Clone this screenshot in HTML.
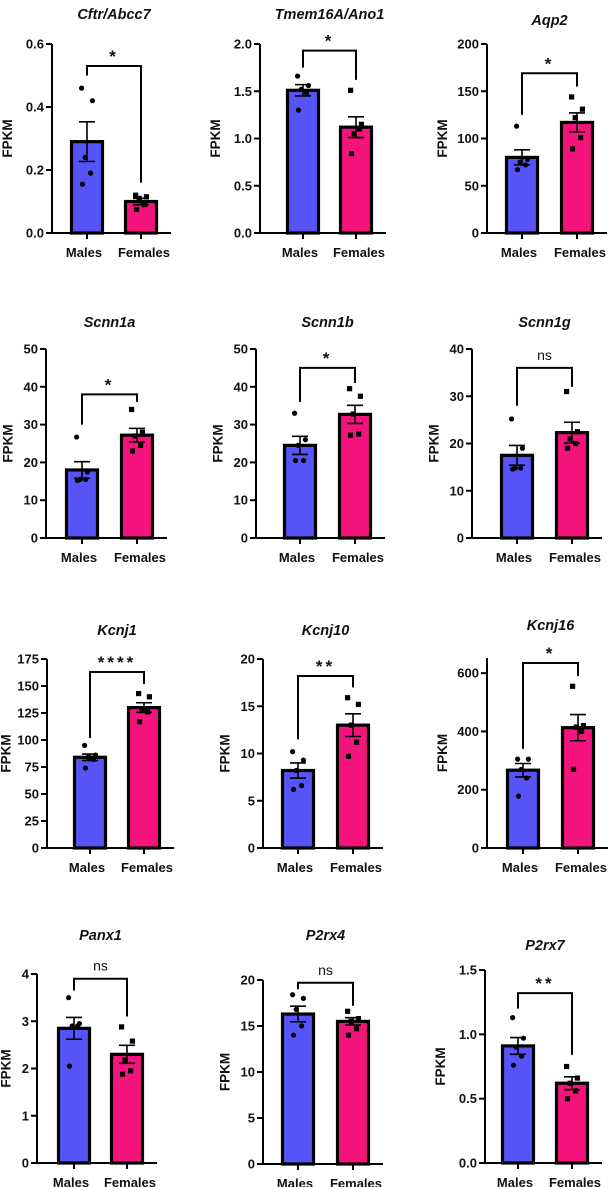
<!DOCTYPE html>
<html><head><meta charset="utf-8"><style>
html,body{margin:0;padding:0;background:#fff}
svg{display:block}
text{font-family:"Liberation Sans",Arial,sans-serif;fill:#111}
</style></head><body>
<svg id="fig" width="615" height="1187" viewBox="0 0 615 1187" xmlns="http://www.w3.org/2000/svg"></svg>
<script>
const genes = ["Cftr/Abcc7","Tmem16A/Ano1","Aqp2","Scnn1a","Scnn1b","Scnn1g","Kcnj1","Kcnj10","Kcnj16","Panx1","P2rx4","P2rx7"];
const categories = ["Males","Females"];
const maleMeans = [0.29,1.51,80,18,24.5,17.5,84,8.2,267,2.85,16.3,0.91];
const maleSems = [0.063,0.06,8,2.2,2.4,2.1,3,0.8,23,0.23,0.85,0.065];
const femaleMeans = [0.10,1.12,117,27.2,32.7,22.3,130,13.0,413,2.3,15.5,0.62];
const femaleSems = [0.01,0.11,10,1.8,2.4,2.2,4.5,1.2,45,0.19,0.4,0.05];
const malePoints = [
 [0.46,0.42,0.24,0.19,0.155],[1.66,1.56,1.52,1.48,1.30],[113,78,75,72,67],
 [26.7,17.5,15.5,15.5,15.2],[33,26,24.5,20.5,20.5],[25.2,19,14.8,14.8,14.6],
 [95,86,84,82,74],[10.2,9.3,8.2,6.6,6.2],[305,305,270,240,178],
 [3.5,2.95,2.9,2.9,2.05],[18.4,18.0,16.8,15.0,14.0],[1.13,0.97,0.90,0.83,0.76]];
const femalePoints = [
 [0.12,0.115,0.11,0.09,0.075],[1.51,1.15,1.05,1.10,0.84],[144,131,122,101,89],
 [34,28,27,24.5,23],[39.5,37.5,32.8,27.5,27.2],[31,22.5,21,20,19],
 [143,140,128,126,117],[15.9,15.2,13,11.2,9.7],[555,420,415,400,270],
 [2.88,2.58,2.18,1.95,1.88],[16.6,15.8,15.5,14.7,14.0],[0.75,0.66,0.62,0.56,0.50]];
const axisMax = [0.6,2,200,50,50,40,175,20,652,4,20,1.5];
const tickStep = [0.2,0.5,50,10,10,10,25,5,200,1,5,0.5];
const tickMaxVal = [0.6,2,200,50,50,40,175,20,600,4,20,1.5];
const tickDecimals = [1,1,0,0,0,0,0,0,0,0,0,1];
const sigLabels = ["*","*","*","*","*","ns","****","**","*","ns","ns","**"];
const bracketVals = [0.53,1.93,169,38,45,36,163,18.2,635,3.9,19.7,1.32];
const maleLegEnd = [0.5,1.75,125,30,36,28,102,11.5,340,3.65,19,1.2];
const femaleLegEnd = [0.16,1.62,155,36,41,32,152,17,590,3.1,17.2,0.84];
// layout: [axisX, topY, bottomY, center1, center2, titleY]
const layout = [
 [52,44,233,87,141,14],[260,44,233,303,356,14],[487,44,233,522,577,20],
 [46,349,538,82,137,322],[256,349,538,300,355,322],[472,349,538,517,572,322],
 [47,659,848,90,144,630],[263,659,848,298,353,630],[487,658,848,523,578,625],
 [37,974,1163,74,127,935],[263,980,1164,298,353,935],[485,970,1163,518,572,945]];
const NS="http://www.w3.org/2000/svg";
const svg=document.getElementById('fig');
function mk(tag,attrs,parent){const e=document.createElementNS(NS,tag);for(const k in attrs)e.setAttribute(k,attrs[k]);(parent||svg).appendChild(e);return e;}
const jx=[-6,6,-2,4,-5];
genes.forEach((g,i)=>{
  const [ax,top,bot,c1,c2,ty]=layout[i];
  const max=axisMax[i];
  const y=v=>bot-(v/max)*(bot-top);
  const grp=mk('g',{});
  
  
  const t=mk('text',{x:(c1+c2)/2,y:ty+5,'text-anchor':'middle','font-size':'14.5','font-weight':'bold','font-style':'italic'},grp);
  t.textContent=g;
  
  
  [[c1,maleMeans[i],maleSems[i],'#5754f7',malePoints[i],'circle'],[c2,femaleMeans[i],femaleSems[i],'#f4147c',femalePoints[i],'square']].forEach((b,k)=>{
    const [cx,m,s,col,pts,shape]=b;
    const r=mk('rect',{x:cx-15.5,y:y(m),width:31,height:bot-y(m),fill:col,stroke:'#000','stroke-width':3.2},grp);
    
    
    const eb=mk('path',{d:`M${cx} ${y(m-s)}V${y(m+s)}M${cx-8} ${y(m+s)}H${cx+8}M${cx-8} ${y(m-s)}H${cx+8}`,stroke:'#000','stroke-width':1.6,fill:'none'},grp);
    
    
    pts.forEach((p,j)=>{
      let d;
      if(shape==='circle'){d=mk('circle',{cx:cx+jx[j]*0.9,cy:y(p),r:2.6,fill:'#000'},grp);}
      else{d=mk('rect',{x:cx+jx[j]*0.9-2.6,y:y(p)-2.6,width:5.2,height:5.2,fill:'#000'},grp);}
      
      
    });
  });
  const yl=mk('line',{x1:ax,y1:top,x2:ax,y2:bot+1,stroke:'#000','stroke-width':2},grp);
  
  
  const xl=mk('line',{x1:ax-1,y1:bot,x2:c2+30,y2:bot,stroke:'#000','stroke-width':2},grp);
  
  
  let maxLbl=0;
  const n=Math.round(tickMaxVal[i]/tickStep[i]);
  for(let k=0;k<=n;k++){
    const v=k*tickStep[i];
    mk('line',{x1:ax-6,y1:y(v),x2:ax,y2:y(v),stroke:'#000','stroke-width':2},grp);
    const lbl=v.toFixed(tickDecimals[i]);
    maxLbl=Math.max(maxLbl,lbl.length);
    const tl=mk('text',{x:ax-8,y:y(v)+4.5,'text-anchor':'end','font-size':'13','font-weight':'bold'},grp);
    tl.textContent=lbl;
    
    
  }
  const fx=Math.max(ax-maxLbl*6.5-24,7);
  const fy=(top+bot)/2;
  const ft=mk('text',{x:fx,y:fy,'text-anchor':'middle','font-size':'13.5','font-weight':'bold',transform:`rotate(-90 ${fx} ${fy})`,'dominant-baseline':'middle'},grp);
  ft.textContent='FPKM';
  
  
  [c1,c2].forEach((cx,k)=>{
    mk('line',{x1:cx,y1:bot,x2:cx,y2:bot+6,stroke:'#000','stroke-width':2},grp);
    const xt=mk('text',{x:cx+(k===0?-3:3),y:bot+24,'text-anchor':'middle','font-size':'13','font-weight':'bold'},grp);
    xt.textContent=categories[k];
    
    
  });
  const by=y(bracketVals[i]);
  const br=mk('path',{d:`M${c1} ${y(maleLegEnd[i])}V${by}H${c2}V${y(femaleLegEnd[i])}`,stroke:'#000','stroke-width':2,fill:'none'},grp);
  
  
  const isNs=sigLabels[i]==='ns';
  const st=mk('text',{x:(c1+c2)/2,y:isNs?by-8:by-4,'text-anchor':'middle','font-size':isNs?'14':'17','font-weight':isNs?'normal':'bold','letter-spacing':isNs?'0':'3'},grp);
  st.textContent=sigLabels[i];
  
  
});
</script>
</body></html>
